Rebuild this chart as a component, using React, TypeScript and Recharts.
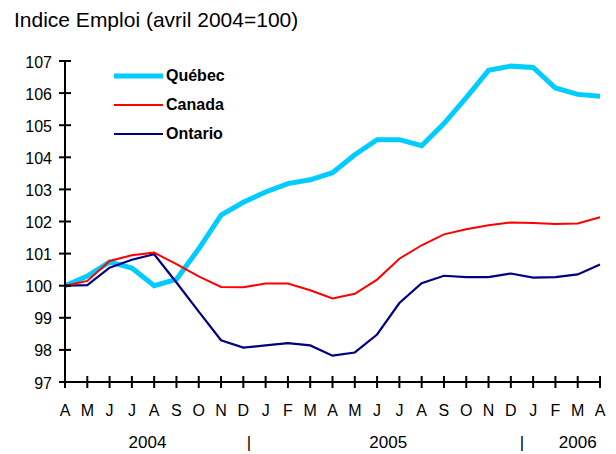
import { LineChart, Line, XAxis, YAxis } from 'recharts';

const FONT = '"Liberation Sans", Arial, sans-serif';

const months = ['A', 'M', 'J', 'J', 'A', 'S', 'O', 'N', 'D', 'J', 'F', 'M', 'A', 'M', 'J', 'J', 'A', 'S', 'O', 'N', 'D', 'J', 'F', 'M', 'A'];

const quebec = [100.0, 100.3, 100.74, 100.55, 100.0, 100.2, 101.15, 102.2, 102.6, 102.92, 103.18, 103.3, 103.52, 104.08, 104.55, 104.55, 104.36, 105.05, 105.86, 106.71, 106.84, 106.8, 106.16, 105.96, 105.9];
const canada = [100.0, 100.15, 100.77, 100.95, 101.03, 100.67, 100.29, 99.96, 99.95, 100.07, 100.07, 99.86, 99.6, 99.75, 100.19, 100.84, 101.26, 101.6, 101.76, 101.88, 101.97, 101.95, 101.92, 101.94, 102.13];
const ontario = [100.0, 100.02, 100.56, 100.81, 100.98, 100.1, 99.19, 98.3, 98.07, 98.14, 98.21, 98.14, 97.82, 97.92, 98.48, 99.46, 100.08, 100.31, 100.27, 100.27, 100.38, 100.25, 100.27, 100.35, 100.66];

const yTicks = [97, 98, 99, 100, 101, 102, 103, 104, 105, 106, 107];

// year row under the month labels (positions in month-index units)
const yearTicks = [3.7, 8.25, 14.5, 20.5, 23];
const yearLabels = ['2004', '|', '2005', '|', '2006'];

const series = [
  { key: 'quebec', name: 'Québec', color: '#00CCFF', width: 5 },
  { key: 'canada', name: 'Canada', color: '#FF0000', width: 2 },
  { key: 'ontario', name: 'Ontario', color: '#000080', width: 2.2 },
];

const data = months.map((month, i) => ({
  month,
  quebec: quebec[i],
  canada: canada[i],
  ontario: ontario[i],
}));

function MonthTick(props: any) {
  const { x, y, payload } = props;
  return (
    <g>
      <line x1={x} x2={x} y1={y - 6} y2={y + 6} stroke="#000" strokeWidth={2} />
      <text x={x} y={y + 34} textAnchor="middle" fontSize={16} fontFamily={FONT} fill="#000">
        {payload.value}
      </text>
    </g>
  );
}

function YearTick(props: any) {
  const { x, y, payload } = props;
  const i = yearTicks.indexOf(payload.value);
  return (
    <text x={x} y={y + 26} textAnchor="middle" fontSize={17} fontFamily={FONT} fill="#000">
      {yearLabels[i]}
    </text>
  );
}

function ValueTick(props: any) {
  const { x, y, payload } = props;
  return (
    <g>
      <line x1={x - 6} x2={x + 6} y1={y} y2={y} stroke="#000" strokeWidth={2} />
      <text x={x - 13} y={y + 6.5} textAnchor="end" fontSize={16} fontFamily={FONT} fill="#000">
        {payload.value}
      </text>
    </g>
  );
}

export default function App() {
  return (
    <div style={{ position: 'absolute', left: 0, top: 0, width: 616, height: 454, background: '#fff', fontFamily: FONT }}>
      <div style={{ position: 'absolute', left: 14, top: 8, fontSize: 21, lineHeight: '24px', color: '#000', whiteSpace: 'nowrap' }}>
        Indice Emploi (avril 2004=100)
      </div>

      <LineChart width={616} height={454} data={data} margin={{ top: 61, right: 16, bottom: 0, left: 0 }}>
        <XAxis
          dataKey="month"
          interval={0}
          height={40}
          tickSize={0}
          tickMargin={0}
          tickLine={false}
          axisLine={{ stroke: '#000', strokeWidth: 2 }}
          tick={<MonthTick />}
        />
        <XAxis
          xAxisId="years"
          type="number"
          domain={[0, 24]}
          ticks={yearTicks}
          interval={0}
          height={32}
          tickSize={0}
          tickMargin={0}
          tickLine={false}
          axisLine={false}
          tick={<YearTick />}
        />
        <YAxis
          domain={[97, 107]}
          ticks={yTicks}
          interval={0}
          width={65}
          tickSize={0}
          tickMargin={0}
          tickLine={false}
          axisLine={{ stroke: '#000', strokeWidth: 2 }}
          tick={<ValueTick />}
        />
        <Line type="linear" dataKey="quebec" stroke="#00CCFF" strokeWidth={5} dot={false} isAnimationActive={false} />
        <Line type="linear" dataKey="ontario" stroke="#000080" strokeWidth={2.2} dot={false} isAnimationActive={false} />
        <Line type="linear" dataKey="canada" stroke="#FF0000" strokeWidth={2} dot={false} isAnimationActive={false} />
      </LineChart>

      <div style={{ position: 'absolute', left: 114, top: 62 }}>
        {series.map((s) => (
          <div key={s.key} style={{ display: 'flex', alignItems: 'center', height: 28.7 }}>
            <svg width={50} height={10} style={{ display: 'block' }}>
              <line x1={0} x2={49} y1={5} y2={5} stroke={s.color} strokeWidth={s.width} />
            </svg>
            <span style={{ marginLeft: 2, fontSize: 16, fontWeight: 'bold', color: '#000', lineHeight: '16px' }}>{s.name}</span>
          </div>
        ))}
      </div>
    </div>
  );
}
